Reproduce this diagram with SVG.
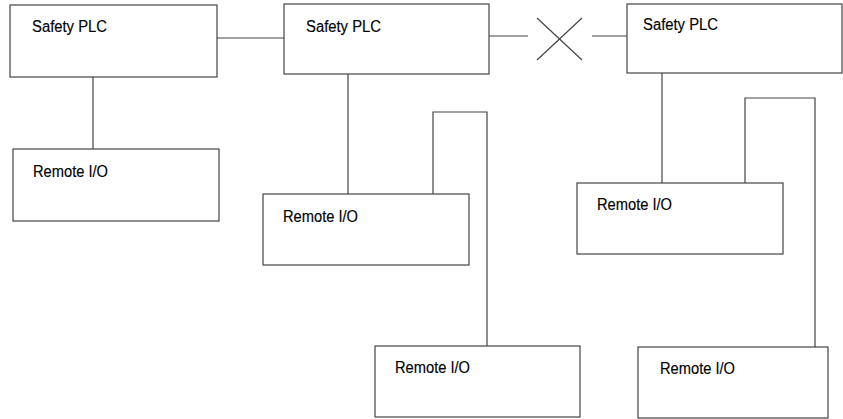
<svg xmlns="http://www.w3.org/2000/svg" width="843" height="419" viewBox="0 0 843 419">
<style>
.box{fill:#fff;stroke:#444;stroke-width:1.2}
.ln{fill:none;stroke:#444;stroke-width:1.2}
.t{font-family:"Liberation Sans",Arial,sans-serif;font-size:16px;fill:#000;stroke:#000;stroke-width:0.15}
</style>
<rect width="843" height="419" fill="#fff"/>
<g id="connectors">
<line class="ln" x1="217" y1="38" x2="284" y2="38"/>
<line class="ln" x1="489" y1="36" x2="528" y2="36"/>
<line class="ln" x1="537" y1="18" x2="582" y2="60" stroke="#666"/>
<line class="ln" x1="582" y1="18" x2="537" y2="60"/>
<line class="ln" x1="592" y1="36" x2="627" y2="36"/>
<line class="ln" x1="93" y1="77" x2="93" y2="149"/>
<line class="ln" x1="348" y1="74" x2="348" y2="194"/>
<polyline class="ln" points="433,194 433,112 487,112 487,346"/>
<line class="ln" x1="662" y1="73" x2="662" y2="183"/>
<polyline class="ln" points="745,183 745,98 815,98 815,347"/>
</g>
<g id="plc1"><rect class="box" x="10" y="5" width="207" height="72"/><text class="t" x="32" y="32" textLength="75" lengthAdjust="spacingAndGlyphs">Safety PLC</text></g>
<g id="plc2"><rect class="box" x="284" y="4" width="205" height="70"/><text class="t" x="306" y="32" textLength="75" lengthAdjust="spacingAndGlyphs">Safety PLC</text></g>
<g id="plc3"><rect class="box" x="627" y="4" width="215" height="69"/><text class="t" x="643" y="30" textLength="75" lengthAdjust="spacingAndGlyphs">Safety PLC</text></g>
<g id="rio1"><rect class="box" x="13" y="149" width="206" height="72"/><text class="t" x="33" y="177" textLength="75" lengthAdjust="spacingAndGlyphs">Remote I/O</text></g>
<g id="rio2"><rect class="box" x="263" y="194" width="206" height="71"/><text class="t" x="283" y="222" textLength="75" lengthAdjust="spacingAndGlyphs">Remote I/O</text></g>
<g id="rio3"><rect class="box" x="375" y="346" width="205" height="71"/><text class="t" x="395" y="373" textLength="75" lengthAdjust="spacingAndGlyphs">Remote I/O</text></g>
<g id="rio4"><rect class="box" x="577" y="183" width="206" height="71"/><text class="t" x="597" y="210" textLength="75" lengthAdjust="spacingAndGlyphs">Remote I/O</text></g>
<g id="rio5"><rect class="box" x="638" y="347" width="190" height="71"/><text class="t" x="660" y="374" textLength="75" lengthAdjust="spacingAndGlyphs">Remote I/O</text></g>
</svg>
